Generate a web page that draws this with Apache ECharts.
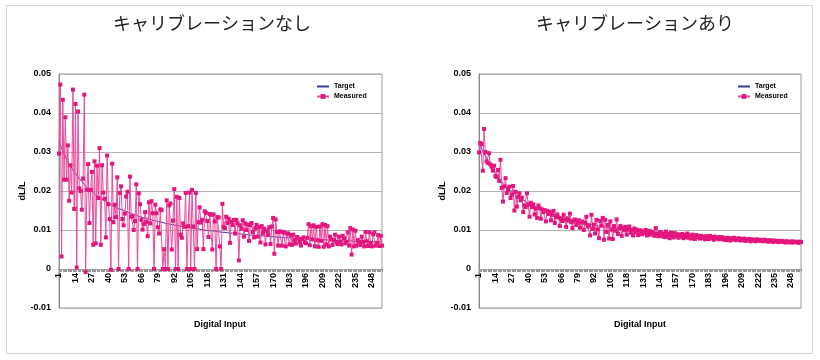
<!DOCTYPE html>
<html><head><meta charset="utf-8">
<script src="https://cdn.jsdelivr.net/npm/echarts@6/dist/echarts.min.js"></script>
<style>html,body{margin:0;padding:0;background:#fff}#c{width:820px;height:360px}</style>
</head><body><div id="c"></div>
<script>
const categories = Array.from({length: 256}, (_, i) => String(i + 1));
const titles = ['キャリブレーションなし', 'キャリブレーションあり'];
const seriesNames = ['Target', 'Measured'];
const xAxisName = 'Digital Input';
const yAxisName = 'dL/L';
const yMin = -0.01, yMax = 0.05, yStep = 0.01;

const target = [
.0327,.0318,.0310,.0303,.0295,.0289,.0282,.0276,.0270,.0264,.0259,.0254,.0249,.0245,.0240,.0236,
.0232,.0228,.0224,.0220,.0217,.0213,.0210,.0207,.0204,.0201,.0198,.0196,.0193,.0190,.0188,.0186,
.0183,.0181,.0179,.0177,.0175,.0173,.0171,.0169,.0167,.0165,.0163,.0162,.0160,.0159,.0157,.0155,
.0154,.0153,.0151,.0150,.0148,.0147,.0146,.0145,.0143,.0142,.0141,.0140,.0139,.0138,.0136,.0135,
.0134,.0133,.0132,.0131,.0130,.0130,.0129,.0128,.0127,.0126,.0125,.0124,.0123,.0123,.0122,.0121,
.0120,.0120,.0119,.0118,.0117,.0117,.0116,.0115,.0115,.0114,.0113,.0113,.0112,.0112,.0111,.0110,
.0110,.0109,.0109,.0108,.0107,.0107,.0106,.0106,.0105,.0105,.0104,.0104,.0103,.0103,.0102,.0102,
.0101,.0101,.0101,.0100,.0100,.0099,.0099,.0098,.0098,.0098,.0097,.0097,.0096,.0096,.0096,.0095,
.0095,.0094,.0094,.0094,.0093,.0093,.0093,.0092,.0092,.0092,.0091,.0091,.0091,.0090,.0090,.0090,
.0089,.0089,.0089,.0089,.0088,.0088,.0088,.0087,.0087,.0087,.0087,.0086,.0086,.0086,.0085,.0085,
.0085,.0085,.0084,.0084,.0084,.0084,.0083,.0083,.0083,.0083,.0083,.0082,.0082,.0082,.0082,.0081,
.0081,.0081,.0081,.0080,.0080,.0080,.0080,.0080,.0079,.0079,.0079,.0079,.0079,.0078,.0078,.0078,
.0078,.0078,.0077,.0077,.0077,.0077,.0077,.0077,.0076,.0076,.0076,.0076,.0076,.0076,.0075,.0075,
.0075,.0075,.0075,.0075,.0074,.0074,.0074,.0074,.0074,.0074,.0073,.0073,.0073,.0073,.0073,.0073,
.0073,.0072,.0072,.0072,.0072,.0072,.0072,.0072,.0071,.0071,.0071,.0071,.0071,.0071,.0071,.0070,
.0070,.0070,.0070,.0070,.0070,.0070,.0070,.0069,.0069,.0069,.0069,.0069,.0069,.0069,.0069,.0068
];

const measuredUncal = [
.0296,.0473,.0032,.0434,.0229,.0389,.0229,.0317,.0175,.0266,.0196,.0460,.0154,.0423,.0004,.0404,
.0207,.0200,.0152,.0232,.0447,-.0008,.0203,.0269,.0118,.0203,.0249,.0062,.0276,.0066,.0265,.0182,
.0310,.0062,.0266,.0196,.0180,.0081,.0291,.0166,.0128,-.0002,.0270,.0120,.0165,.0133,.0235,.0000,
.0195,.0212,.0128,.0112,.0142,.0186,.0198,.0000,.0237,.0134,.0135,.0100,.0123,.0217,.0000,.0194,
.0166,.0126,.0101,.0115,.0146,.0121,.0084,.0171,.0117,.0174,.0143,.0000,.0165,.0143,.0107,.0091,
.0153,.0151,.0000,.0051,.0000,.0176,.0000,.0163,.0168,.0050,.0124,.0205,.0000,.0185,.0000,.0182,
.0088,.0080,.0117,.0108,.0195,.0000,.0110,.0196,.0000,.0203,.0109,.0000,.0195,.0051,.0120,.0158,
.0119,.0126,.0051,.0148,.0144,.0123,.0082,.0141,.0139,.0050,.0140,.0122,.0000,.0133,.0132,.0058,
.0000,.0167,.0108,.0105,.0134,.0118,.0129,.0067,.0121,.0113,.0126,.0091,.0126,.0117,.0022,.0112,
.0103,.0125,.0083,.0117,.0100,.0114,.0072,.0112,.0118,.0095,.0081,.0105,.0113,.0083,.0107,.0068,
.0110,.0092,.0103,.0063,.0098,.0088,.0107,.0064,.0109,.0131,.0039,.0127,.0095,.0060,.0096,.0096,
.0060,.0094,.0094,.0058,.0091,.0091,.0063,.0087,.0062,.0088,.0073,.0065,.0082,.0078,.0069,.0060,
.0077,.0081,.0069,.0066,.0080,.0115,.0061,.0110,.0076,.0112,.0058,.0108,.0074,.0057,.0109,.0072,
.0115,.0057,.0113,.0063,.0110,.0058,.0083,.0076,.0062,.0074,.0088,.0069,.0064,.0083,.0071,.0063,
.0085,.0079,.0066,.0070,.0094,.0060,.0105,.0037,.0101,.0058,.0098,.0060,.0074,.0070,.0062,.0083,
.0070,.0058,.0095,.0071,.0059,.0094,.0067,.0058,.0089,.0094,.0060,.0067,.0087,.0059,.0085,.0060
];

const measuredCal = [
.0299,.0323,.0320,.0252,.0359,.0300,.0276,.0272,.0297,.0268,.0262,.0252,.0265,.0238,.0236,.0254,
.0226,.0280,.0208,.0173,.0212,.0233,.0195,.0204,.0211,.0182,.0191,.0213,.0150,.0198,.0160,.0185,
.0194,.0176,.0183,.0146,.0163,.0159,.0194,.0165,.0134,.0170,.0159,.0166,.0140,.0155,.0131,.0163,
.0156,.0129,.0153,.0146,.0151,.0122,.0149,.0141,.0147,.0125,.0139,.0149,.0118,.0134,.0140,.0132,
.0110,.0129,.0123,.0139,.0126,.0108,.0130,.0124,.0142,.0120,.0105,.0124,.0127,.0113,.0118,.0125,
.0106,.0119,.0122,.0100,.0118,.0134,.0109,.0112,.0086,.0139,.0103,.0114,.0091,.0126,.0102,.0079,
.0123,.0111,.0131,.0075,.0126,.0095,.0113,.0078,.0122,.0101,.0077,.0110,.0098,.0127,.0090,.0104,
.0110,.0085,.0106,.0099,.0108,.0088,.0101,.0109,.0093,.0100,.0086,.0104,.0095,.0101,.0087,.0098,
.0099,.0089,.0096,.0092,.0100,.0086,.0094,.0098,.0088,.0095,.0093,.0085,.0105,.0090,.0084,.0094,
.0094,.0084,.0091,.0082,.0096,.0083,.0090,.0079,.0093,.0086,.0081,.0092,.0084,.0089,.0080,.0088,
.0083,.0090,.0079,.0087,.0082,.0091,.0080,.0086,.0078,.0088,.0084,.0077,.0087,.0081,.0085,.0078,
.0085,.0079,.0083,.0076,.0084,.0080,.0077,.0085,.0079,.0082,.0075,.0083,.0078,.0081,.0076,.0082,
.0077,.0081,.0075,.0079,.0074,.0080,.0077,.0073,.0079,.0076,.0080,.0074,.0078,.0075,.0079,.0073,
.0077,.0074,.0078,.0072,.0076,.0074,.0077,.0071,.0076,.0073,.0075,.0071,.0076,.0073,.0075,.0072,
.0074,.0071,.0075,.0072,.0073,.0070,.0074,.0071,.0073,.0069,.0073,.0071,.0072,.0069,.0072,.0070,
.0072,.0069,.0071,.0068,.0071,.0069,.0070,.0068,.0071,.0068,.0070,.0069,.0070,.0067,.0070,.0069
];

const F = '"Liberation Sans", Arial, sans-serif';
const TARGET_C = '#3a3a9c', MEAS_C = '#e3167e', MEAS_LINE = '#ec4a9c';
const grids = [
  {left: 59, right: 438, top: 74, bottom: 52},
  {left: 479, right: 19, top: 74, bottom: 52}
];
const legendLeft = [316, 737];
const titleX = [212, 635];
const xNameX = [220, 640];
const measured = [measuredUncal, measuredCal];
// zero line sits 1/6 of the plot height above the bottom edge (range -0.01..0.05)
const plotH = 360 - 74 - 52;
const zeroOffset = -plotH * (0 - yMin) / (yMax - yMin);

const chart = echarts.init(document.getElementById('c'), null, {renderer: 'canvas'});
const option = {
  animation: false,
  backgroundColor: '#fff',
  graphic: [
    {type: 'rect', shape: {x: 6.5, y: 5.5, width: 806, height: 348}, style: {fill: 'none', stroke: '#d4d4d4', lineWidth: 1}, silent: true, z: -1},
    ...titles.map((t, i) => ({type: 'text', x: titleX[i], y: 23, style: {text: t, align: 'center', verticalAlign: 'middle', font: '18px "Noto Sans CJK JP"', fill: '#222'}})),
    ...xNameX.map(x => ({type: 'text', x: x, y: 325, style: {text: xAxisName, align: 'center', verticalAlign: 'middle', font: 'bold 9px "Liberation Sans", Arial, sans-serif', fill: '#000'}}))
  ],
  grid: grids.map(g => Object.assign({show: true, borderColor: '#9a9a9a', borderWidth: 1, backgroundColor: '#fff', outerBoundsMode: 'none', containLabel: false}, g)),
  legend: legendLeft.map(l => ({
    left: l, top: 83, orient: 'vertical', itemWidth: 12, itemHeight: 6, itemGap: 3, padding: 0,
    data: [{name: seriesNames[0], itemStyle: {opacity: 0}}, {name: seriesNames[1]}], selectedMode: false,
    textStyle: {fontFamily: F, fontSize: 7, fontWeight: 'bold', color: '#000'}
  })),
  xAxis: grids.map((g, i) => ({
    type: 'category', gridIndex: i, data: categories, boundaryGap: false,
    position: 'bottom', offset: zeroOffset,
    axisLine: {onZero: false, lineStyle: {color: '#9a9a9a'}},
    axisTick: {interval: 0, length: 3, lineStyle: {color: '#9a9a9a'}},
    axisLabel: {interval: 12, rotate: 90, fontFamily: F, fontSize: 9, fontWeight: 'bold', color: '#000', margin: 4},
    splitLine: {show: false}
  })),
  yAxis: grids.map((g, i) => ({
    type: 'value', gridIndex: i, min: yMin, max: yMax, interval: yStep,
    name: yAxisName, nameLocation: 'middle', nameGap: 32,
    nameTextStyle: {fontFamily: F, fontSize: 9, fontWeight: 'bold', color: '#000'},
    axisLine: {show: true, lineStyle: {color: '#8a8a8a'}},
    axisTick: {show: false},
    axisLabel: {fontFamily: F, fontSize: 9, fontWeight: 'bold', color: '#000', margin: 8},
    splitLine: {lineStyle: {color: '#b4b4b4'}}
  })),
  series: [0, 1].flatMap(i => [
    {type: 'line', name: seriesNames[0], xAxisIndex: i, yAxisIndex: i, data: target,
     symbol: 'none', lineStyle: {color: TARGET_C, width: 1}, itemStyle: {color: TARGET_C}, z: 2},
    {type: 'line', name: seriesNames[1], xAxisIndex: i, yAxisIndex: i, data: measured[i],
     symbol: 'rect', symbolSize: 4, showAllSymbol: true,
     lineStyle: {color: MEAS_LINE, width: 1}, itemStyle: {color: MEAS_C}, z: 3}
  ])
};
chart.setOption(option);
</script></body></html>
